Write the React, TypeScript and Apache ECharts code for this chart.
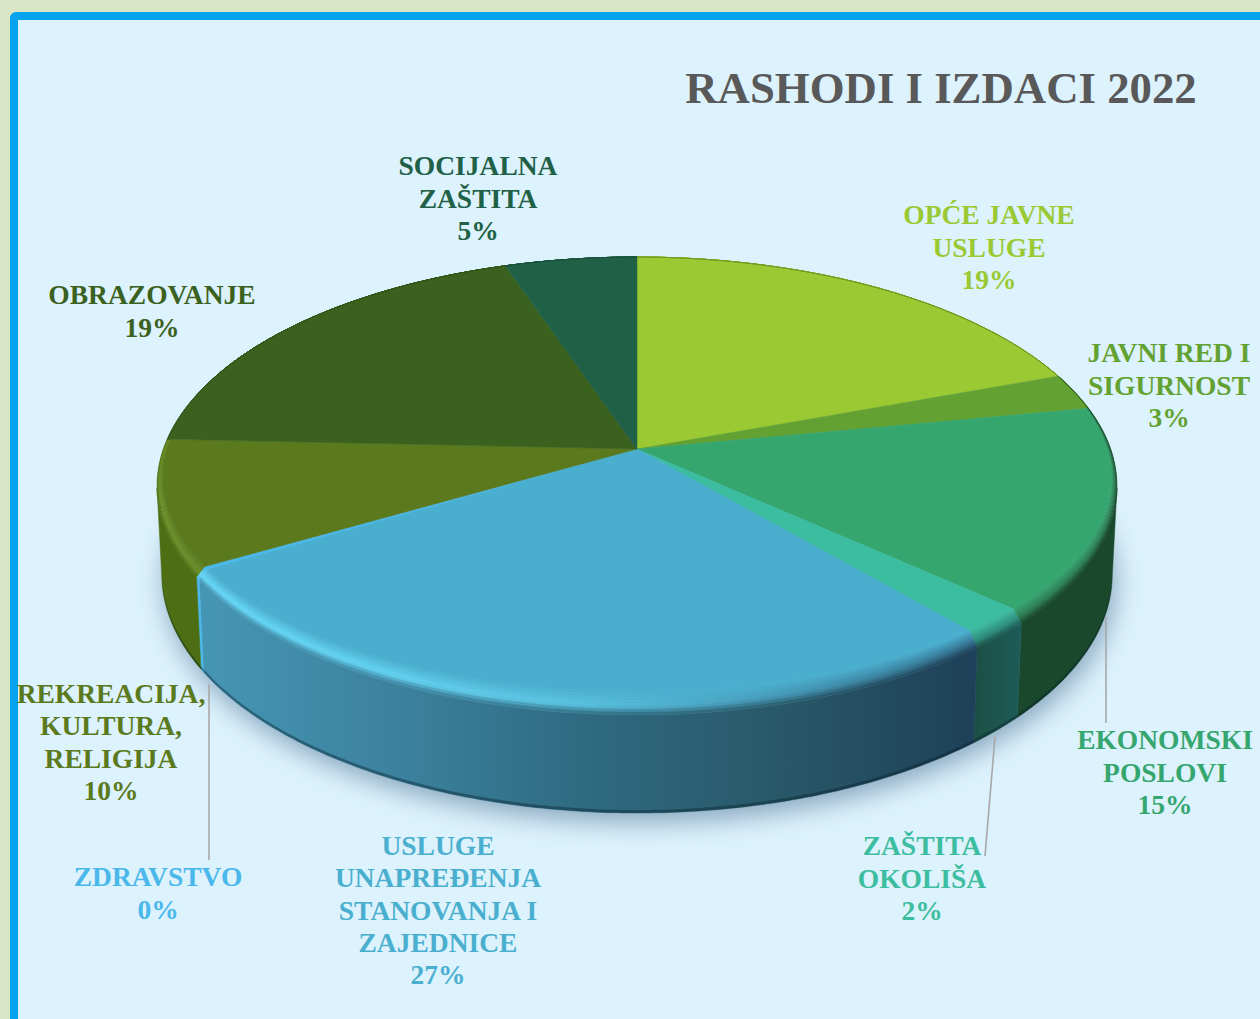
import React, { useEffect, useRef } from "react";
import * as echarts from "echarts";

const titleText = "RASHODI I IZDACI 2022";
const categories = [
  "OPĆE JAVNE\nUSLUGE",
  "JAVNI RED I\nSIGURNOST",
  "EKONOMSKI\nPOSLOVI",
  "ZAŠTITA\nOKOLIŠA",
  "USLUGE\nUNAPREĐENJA\nSTANOVANJA I\nZAJEDNICE",
  "ZDRAVSTVO",
  "REKREACIJA,\nKULTURA,\nRELIGIJA",
  "OBRAZOVANJE",
  "SOCIJALNA\nZAŠTITA",
];
const values = [19.4, 2.6, 15.2, 2.0, 26.8, 0.2, 9.5, 19.1, 5.2];
const percentLabels = ["19%", "3%", "15%", "2%", "27%", "0%", "10%", "19%", "5%"];

const topColors = ["#9ac933", "#63a232", "#36a66f", "#3dbda0", "#4aafcf", "#4ab8ea", "#5b7a1e", "#3b611f", "#206047"];
const labelColors = ["#9ac933", "#63a232", "#36a66f", "#3dbda0", "#4aafcf", "#4ab8ea", "#5b7a1e", "#3b611f", "#206047"];
const sideStops = [
  ["#5d7f22"], ["#2e5a20"], ["#19482c"], ["#1b4f44", "#1e5c58"],
  ["#4596b4", "#3c829f", "#2f6a80", "#285868", "#1e4058"],
  ["#4ab8ea"], ["#4d6e12"], ["#2f4f18"], ["#184a36"],
];
const rimStops = [
  ["#9ac933"], ["#4f8a2a"], ["#2a7a50"], ["#2a8a78"],
  ["#66daf9", "#62d4f2", "#58c2e0", "#4296b4", "#2f6d8a"],
  ["#6ad6f8"], ["#6a9026"], ["#3b611f"], ["#206047"],
];

const labelCenters = [
  [989, 247], [1169, 385], [1165, 772], [922, 878], [438, 910], [158, 893], [111, 742], [152, 311], [478, 198],
];
const leaders: Record<number, number[][]> = {
  2: [[1106, 617], [1106, 723]],
  3: [[995, 737], [985, 856]],
  5: [[209, 684], [209, 860]],
};

const CX = 637;
const TOP_CY = 449;
const TOP_RX = 473.7;
const TOP_RY = 223;
const BOT_CY = 535.5;
const BOT_RX = 469;
const BOT_RY = 232.7;
const K = 0.1616;

const total = values.reduce((a, b) => a + b, 0);
const starts: number[] = [];
values.reduce((acc, v, i) => {
  starts[i] = acc;
  return acc + v;
}, 0);
const angleOf = (pct: number) => (pct / total) * Math.PI * 2;

const clamp = (v: number, a: number, b: number) => Math.max(a, Math.min(b, v));
const topPoint = (ux: number, uy: number) => {
  const d = 1 - K * uy;
  return [CX + (TOP_RX * ux) / d, TOP_CY + (TOP_RY * uy) / d];
};
const botPoint = (ux: number, uy: number) => {
  const d = 1 - K * uy;
  return [CX + (BOT_RX * ux) / d, BOT_CY + (BOT_RY * uy) / d];
};
const rimPoint = (t: number, s: number) => {
  const ux = Math.sin(t);
  const uy = -Math.cos(t);
  const f = clamp((uy + 0.4) / 0.7, 0, 1);
  const ix = ux * (1 - 0.012 * s * f);
  const iy = uy * (1 - (uy > 0 ? 0.075 : 0) * s);
  return topPoint(ix, iy);
};
const arcAngles = (a: number, b: number) => {
  const n = Math.max(2, Math.ceil((b - a) / 0.012));
  const out: number[] = [];
  for (let i = 0; i <= n; i++) out.push(a + ((b - a) * i) / n);
  return out;
};
const hex = (c: string) => [1, 3, 5].map((i) => parseInt(c.slice(i, i + 2), 16));
const blend = (a: string, b: string, w: number) => {
  const x = hex(a);
  const y = hex(b);
  return "#" + x.map((v, i) => Math.round(v + (y[i] - v) * w).toString(16).padStart(2, "0")).join("");
};
const hGrad = (x0: number, x1: number, colors: string[]) => {
  if (colors.length === 1) return colors[0];
  return new (echarts.graphic as any).LinearGradient(
    x0, 0, x1 + 0.01, 0,
    colors.map((color, i) => ({ offset: i / (colors.length - 1), color })),
    true
  );
};
const sliceRange = (i: number) => {
  const a = angleOf(starts[i]);
  return [a, a + angleOf(values[i])];
};
const polyEl = (points: number[][], fill: any, extra: any = {}) => ({
  type: "polygon",
  shape: { points },
  style: { fill, stroke: fill, lineWidth: 0.5, ...extra },
});

const renderShadow = () => {
  const pts = arcAngles(0, Math.PI * 2).map((t) => botPoint(Math.sin(t), -Math.cos(t)));
  return {
    type: "polygon",
    shape: { points: pts },
    style: {
      fill: "#a9c4d6",
      shadowBlur: 26,
      shadowColor: "rgba(90,125,155,0.65)",
      shadowOffsetX: 3,
      shadowOffsetY: 9,
    },
  };
};

const renderSide = (params: any) => {
  const i = params.dataIndex;
  const [a, b] = sliceRange(i);
  // only the part of the wall in front of the silhouette tangents (folds would leave holes)
  const angles = arcAngles(a, b).filter((t) => -Math.cos(t) >= K);
  if (angles.length < 2) return { type: "group", children: [] };
  const top = angles.map((t) => topPoint(Math.sin(t), -Math.cos(t)));
  const bot = angles.map((t) => botPoint(Math.sin(t), -Math.cos(t)));
  const all = top.concat(bot);
  const xs = all.map((p) => p[0]);
  const x0 = Math.min(...xs);
  const x1 = Math.max(...xs);
  const fill = hGrad(x0, x1, sideStops[i]);
  const edgeInner = bot.map((p) => [p[0], p[1] - 3]);
  return {
    type: "group",
    children: [
      polyEl(top.concat(bot.slice().reverse()), fill),
      {
        type: "polygon",
        shape: { points: bot.concat(edgeInner.reverse()) },
        style: { fill: "rgba(5,30,40,0.4)" },
      },
    ],
  };
};

const STRIPS = 8;
const renderTop = (params: any) => {
  const i = params.dataIndex;
  const [a, b] = sliceRange(i);
  const angles = arcAngles(a, b);
  const disc = [[CX, TOP_CY], ...angles.map((t) => rimPoint(t, 1))];
  const children: any[] = [polyEl(disc, topColors[i])];
  const outer = angles.map((t) => rimPoint(t, 0));
  const xs = outer.map((p) => p[0]);
  const x0 = Math.min(...xs);
  const x1 = Math.max(...xs);
  const sCount = Math.max(sideStops[i].length, rimStops[i].length);
  for (let k = 0; k < STRIPS; k++) {
    const s1 = 1 - k / STRIPS;
    const s0 = 1 - (k + 1) / STRIPS;
    const sm = (s0 + s1) / 2;
    const colors: string[] = [];
    for (let c = 0; c < sCount; c++) {
      const rim = rimStops[i][Math.min(c, rimStops[i].length - 1)];
      const side = sideStops[i][Math.min(c, sideStops[i].length - 1)];
      colors.push(sm > 0.35 ? blend(topColors[i], rim, (1 - sm) / 0.65) : blend(rim, side, (0.35 - sm) / 0.35));
    }
    const pts = angles.map((t) => rimPoint(t, s1)).concat(angles.slice().reverse().map((t) => rimPoint(t, s0)));
    children.push(polyEl(pts, hGrad(x0, x1, colors)));
  }
  return { type: "group", children };
};

const renderLabel = (params: any) => {
  const i = params.dataIndex;
  const [x, y] = labelCenters[i];
  const children: any[] = [];
  if (leaders[i]) {
    const [p, q] = leaders[i];
    children.push({
      type: "line",
      shape: { x1: p[0], y1: p[1], x2: q[0], y2: q[1] },
      style: { stroke: "#a8a8a8", lineWidth: 1.6 },
    });
  }
  children.push({
    type: "text",
    style: {
      text: categories[i] + "\n" + percentLabels[i],
      x,
      y,
      fill: labelColors[i],
      font: "bold 27.5px 'Liberation Serif'",
      lineHeight: 32.3,
      textAlign: "center",
      textVerticalAlign: "middle",
    },
  });
  return { type: "group", children };
};

export default function App() {
  const ref = useRef<HTMLDivElement>(null);
  useEffect(() => {
    const chart = echarts.init(ref.current!, undefined, { renderer: "svg" });
    chart.setOption({
      animation: false,
      backgroundColor: "#d9e6c6",
      graphic: [
        {
          type: "rect",
          z: 0,
          shape: { x: 14, y: 16, width: 1400, height: 1200, r: 2 },
          style: { fill: "#dcf2fd", stroke: "#05a3ee", lineWidth: 8 },
        },
        {
          type: "text",
          z: 5,
          style: {
            text: titleText,
            x: 941,
            y: 88,
            fill: "#595959",
            font: "bold 44.8px 'Liberation Serif'",
            textAlign: "center",
            textVerticalAlign: "middle",
          },
        },
      ],
      series: [
        { type: "custom", coordinateSystem: "none", z: 1, silent: true, data: [total], renderItem: renderShadow },
        { type: "custom", coordinateSystem: "none", z: 2, silent: true, data: values, renderItem: renderSide },
        { type: "custom", coordinateSystem: "none", z: 3, silent: true, data: values, renderItem: renderTop },
        { type: "custom", coordinateSystem: "none", z: 4, silent: true, data: values, renderItem: renderLabel },
      ],
    });
    return () => chart.dispose();
  }, []);
  return <div ref={ref} style={{ position: "fixed", left: 0, top: 0, width: 1260, height: 1019 }} />;
}
